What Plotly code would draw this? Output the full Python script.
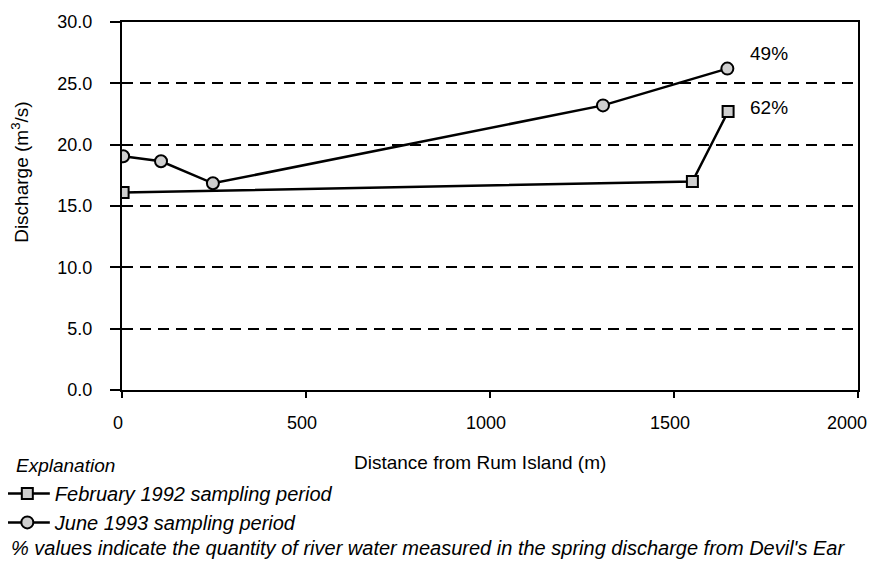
import plotly.graph_objects as go

feb_x = [3, 1550, 1647]
feb_y = [16.1, 17.0, 22.7]
jun_x = [3, 106, 247, 1307, 1645]
jun_y = [19.05, 18.65, 16.85, 23.2, 26.2]
pct_labels = ["49%", "62%"]
pct_x = [1758, 1758]
pct_y = [27.4, 23.0]
x_ticks = [0, 500, 1000, 1500, 2000]
y_ticks = [0, 5, 10, 15, 20, 25, 30]

FONT = "Liberation Sans, Arial, sans-serif"

fig = go.Figure()
fig.add_trace(go.Scatter(
    x=feb_x, y=feb_y, mode="lines+markers",
    name="February 1992 sampling period",
    line=dict(color="black", width=2.5),
    marker=dict(symbol="square", size=11, color="#cfcfcf",
                line=dict(color="black", width=2)),
))
fig.add_trace(go.Scatter(
    x=jun_x, y=jun_y, mode="lines+markers",
    name="June 1993 sampling period",
    line=dict(color="black", width=2.5),
    marker=dict(symbol="circle", size=12, color="#cfcfcf",
                line=dict(color="black", width=2)),
))

for t, xx, yy in zip(pct_labels, pct_x, pct_y):
    fig.add_annotation(x=xx, y=yy, text=t, showarrow=False,
                       font=dict(size=19, color="black", family=FONT))

# last x tick label drawn as annotation so it is not clipped at the edge
fig.add_annotation(x=x_ticks[-1], xref="x", yref="paper", y=-0.0897,
                   xanchor="center", yanchor="middle", xshift=-11,
                   text=str(x_ticks[-1]), showarrow=False,
                   font=dict(size=18, color="black", family=FONT))

# axis titles
fig.add_annotation(xref="paper", yref="paper", x=0.486, y=-0.196,
                   xanchor="center", yanchor="middle",
                   text="Distance from Rum Island (m)",
                   showarrow=False, font=dict(size=19, color="black", family=FONT))
fig.add_annotation(xref="paper", yref="paper", x=-0.139, y=0.592,
                   xanchor="center", yanchor="middle", textangle=-90,
                   text="Discharge (m<sup>3</sup>/s)",
                   showarrow=False, font=dict(size=19, color="black", family=FONT))

fig.add_annotation(xref="paper", yref="paper", x=-0.147, y=-0.204,
                   xanchor="left", yanchor="middle", text="<i>Explanation</i>",
                   showarrow=False, font=dict(size=19, color="black", family=FONT))
fig.add_annotation(xref="paper", yref="paper", x=-0.153, y=-0.429,
                   xanchor="left", yanchor="middle",
                   text="<i>% values indicate the quantity of river water measured in the spring discharge from Devil's Ear</i>",
                   showarrow=False, font=dict(size=20, color="black", family=FONT))

fig.update_layout(
    width=867, height=558,
    margin=dict(l=114, r=17, t=14, b=176, autoexpand=False),
    paper_bgcolor="white", plot_bgcolor="white",
    font=dict(family=FONT, color="black", size=18),
    showlegend=True,
    legend=dict(x=-0.166, y=-0.228, xanchor="left", yanchor="top",
                font=dict(size=20, family=FONT, color="black", style="italic"),
                bgcolor="rgba(0,0,0,0)", tracegroupgap=0, itemwidth=45),
    xaxis=dict(range=[0, 2000], tickvals=x_ticks,
               ticktext=[str(v) for v in x_ticks[:-1]] + [""],
               showgrid=False, zeroline=False, showline=True, linecolor="black",
               linewidth=2, mirror=True, ticks="outside", ticklen=6, tickwidth=2,
               tickcolor="black", tickfont=dict(size=18), automargin=False,
               ticklabelstandoff=9, ticklabelshift=-4),
    yaxis=dict(range=[0, 30], tickvals=y_ticks,
               tickformat=".1f", showgrid=True, gridcolor="black", gridwidth=2,
               griddash="11px,7px", zeroline=False, showline=True, linecolor="black",
               linewidth=2, mirror=True, ticks="outside", ticklen=10, tickwidth=2,
               tickcolor="black", tickfont=dict(size=18), automargin=False,
               ticklabelstandoff=14),
)

fig.write_html("out.html")
